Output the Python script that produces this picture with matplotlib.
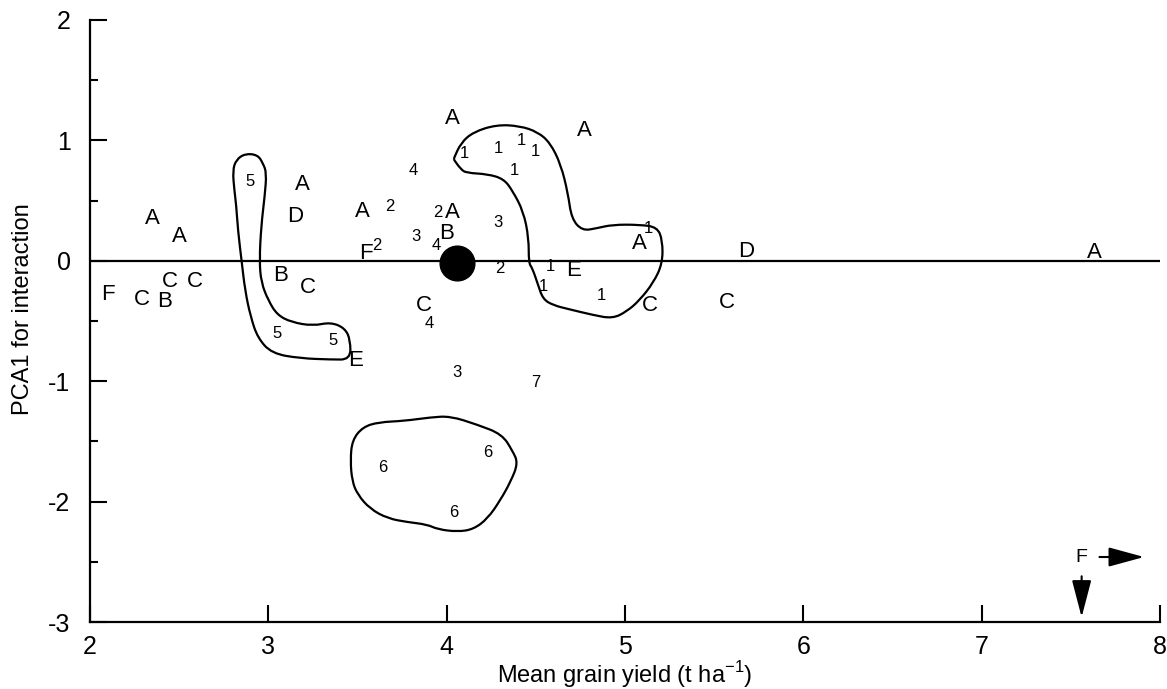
import numpy as np
import matplotlib.pyplot as plt
from matplotlib.path import Path
from matplotlib.patches import PathPatch

plt.rcParams['font.family'] = ['Liberation Sans', 'DejaVu Sans']
plt.rcParams['axes.unicode_minus'] = False

# environments (letters)
env_labels = ['A', 'A', 'F', 'C', 'B', 'C', 'C', 'A', 'D', 'B', 'C', 'E', 'A', 'F',
              'A', 'A', 'B', 'C', 'A', 'E', 'A', 'C', 'D', 'C', 'A']
env_x = [2.35, 2.50, 2.10, 2.29, 2.42, 2.45, 2.59, 3.19, 3.15, 3.07, 3.22, 3.49, 3.53, 3.55,
         4.03, 4.03, 4.00, 3.87, 4.77, 4.71, 5.08, 5.14, 5.68, 5.57, 7.63]
env_y = [0.35, 0.20, -0.28, -0.32, -0.34, -0.17, -0.17, 0.63, 0.37, -0.12, -0.22, -0.83, 0.41, 0.06,
         1.18, 0.40, 0.23, -0.37, 1.08, -0.08, 0.14, -0.37, 0.08, -0.35, 0.07]

# genotypes (numbers)
gen_labels = ['5', '5', '5', '2', '2', '4', '3', '2', '4', '3', '2',
              '1', '1', '1', '1', '1', '1', '1', '1', '1',
              '4', '3', '7', '6', '6', '6']
gen_x = [2.90, 3.05, 3.36, 3.68, 3.61, 3.81, 3.83, 3.95, 3.94, 4.29, 4.30,
         4.10, 4.29, 4.42, 4.50, 4.38, 4.58, 4.54, 4.87, 5.13,
         3.90, 4.06, 4.50, 3.64, 4.23, 4.04]
gen_y = [0.66, -0.60, -0.66, 0.45, 0.13, 0.75, 0.20, 0.40, 0.13, 0.32, -0.06,
         0.89, 0.93, 1.00, 0.91, 0.75, -0.05, -0.21, -0.29, 0.27,
         -0.52, -0.93, -1.01, -1.72, -1.59, -2.09]

# grand mean
mean_x, mean_y = 4.06, -0.02

# group outlines
loop5_x = [2.87, 2.94, 2.97, 2.99, 2.98, 2.96, 2.95, 2.96, 3.00, 3.05, 3.13, 3.25, 3.35, 3.43,
           3.46, 3.46, 3.35, 3.18, 3.02, 2.94, 2.90, 2.87, 2.85, 2.83, 2.82, 2.81, 2.80, 2.82]
loop5_y = [0.89, 0.88, 0.81, 0.73, 0.54, 0.29, 0.00, -0.18, -0.33, -0.45, -0.51, -0.54, -0.51, -0.56,
           -0.66, -0.82, -0.82, -0.81, -0.77, -0.64, -0.46, -0.25, 0.00, 0.25, 0.46, 0.58, 0.75, 0.84]

loop1_x = [4.04, 4.08, 4.15, 4.28, 4.41, 4.51, 4.58, 4.64, 4.68, 4.70, 4.76, 4.84, 4.93, 5.08,
           5.18, 5.21, 5.21, 5.16, 5.08, 5.01, 4.93, 4.82, 4.68, 4.60, 4.54, 4.51, 4.48, 4.46,
           4.46, 4.43, 4.37, 4.32, 4.23, 4.11, 4.08, 4.04]
loop1_y = [0.85, 0.98, 1.07, 1.13, 1.12, 1.07, 0.98, 0.80, 0.56, 0.35, 0.25, 0.27, 0.30, 0.30,
           0.28, 0.17, -0.02, -0.18, -0.33, -0.42, -0.48, -0.45, -0.40, -0.37, -0.32, -0.19, -0.06, -0.02,
           0.19, 0.41, 0.58, 0.68, 0.72, 0.73, 0.76, 0.84]

loop6_x = [4.02, 4.17, 4.31, 4.37, 4.40, 4.36, 4.30, 4.23, 4.15, 4.06, 3.95, 3.89, 3.78, 3.67,
           3.57, 3.50, 3.47, 3.46, 3.47, 3.53, 3.62, 3.76, 3.91]
loop6_y = [-1.29, -1.36, -1.44, -1.58, -1.68, -1.83, -1.99, -2.14, -2.23, -2.25, -2.23, -2.19, -2.17, -2.14,
           -2.06, -1.94, -1.83, -1.66, -1.49, -1.38, -1.34, -1.33, -1.30]

# off-scale point marker
off_label = 'F'
off_x, off_y = 7.56, -2.46

fig = plt.figure(figsize=(11.67, 6.89), dpi=100)
ax = fig.add_axes([0.0771, 0.0972, 0.917, 0.8738])

ax.axhline(0, color='black', lw=1.6, zorder=1)


def smooth_loop(xs, ys):
    # closed quadratic bezier through edge midpoints, vertices act as control points
    pts = np.column_stack([xs, ys])
    mids = (pts + np.roll(pts, -1, axis=0)) / 2
    verts = [mids[-1]]
    codes = [Path.MOVETO]
    for i in range(len(pts)):
        verts += [pts[i], mids[i]]
        codes += [Path.CURVE3, Path.CURVE3]
    return Path(verts, codes)


for lx, ly in [(loop5_x, loop5_y), (loop1_x, loop1_y), (loop6_x, loop6_y)]:
    ax.add_patch(PathPatch(smooth_loop(lx, ly), facecolor='none', edgecolor='black',
                           lw=1.6, zorder=2))

for s, x, y in zip(env_labels, env_x, env_y):
    ax.text(x, y, s, fontsize=16, ha='center', va='center', zorder=3)
for s, x, y in zip(gen_labels, gen_x, gen_y):
    ax.text(x, y, s, fontsize=12, ha='center', va='center', zorder=3)

ax.plot(mean_x, mean_y, 'o', color='black', markersize=25, zorder=4)

# arrows showing the point lies beyond the axes
ax.text(off_x, off_y, off_label, fontsize=14, ha='center', va='center')
ax.annotate('', xy=(off_x + 0.35, off_y), xytext=(off_x + 0.10, off_y),
            arrowprops=dict(arrowstyle='-|>,head_length=1.1,head_width=0.3', color='black',
                            lw=1.5, mutation_scale=20, shrinkA=0, shrinkB=0))
ax.annotate('', xy=(off_x, -2.96), xytext=(off_x, -2.62),
            arrowprops=dict(arrowstyle='-|>,head_length=1.15,head_width=0.3', color='black',
                            lw=1.5, mutation_scale=20, shrinkA=0, shrinkB=0))

ax.set_xlim(2, 8)
ax.set_ylim(-3, 2)
ax.spines['top'].set_visible(False)
ax.spines['right'].set_visible(False)
for sp in ['left', 'bottom']:
    ax.spines[sp].set_linewidth(1.6)

ax.set_xticks(np.arange(2, 9, 1))
ax.set_yticks(np.arange(-3, 3, 1))
ax.set_yticks(np.arange(-2.5, 2, 1), minor=True)
ax.tick_params(axis='x', direction='in', length=12, width=1.5, pad=9, labelsize=18)
ax.tick_params(axis='y', which='major', direction='in', length=12, width=1.5, pad=14, labelsize=18)
ax.tick_params(axis='y', which='minor', direction='in', length=6, width=1.5)

ax.set_xlabel('Mean grain yield (t ha$^{\\mathregular{-1}}$)', fontsize=17)
ax.set_ylabel('PCA1 for interaction', fontsize=17)
ax.xaxis.set_label_coords(0.5, -0.062)
ax.yaxis.set_label_coords(-0.052, 0.52)

fig.savefig('out.png', dpi=100)
